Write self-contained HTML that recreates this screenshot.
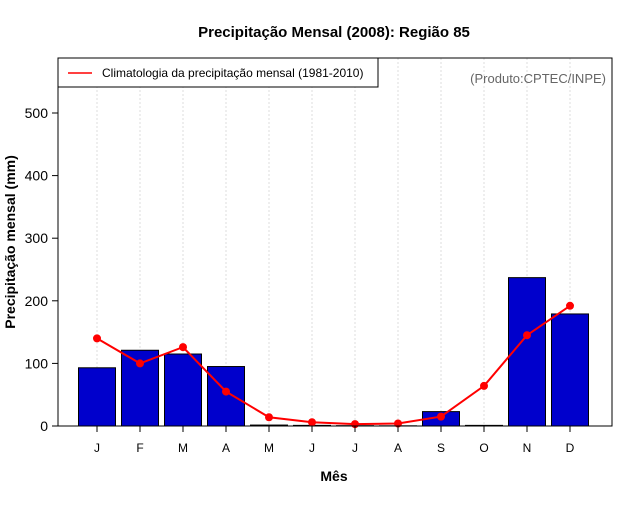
<!DOCTYPE html>
<html><head><meta charset="utf-8"><style>body{margin:0;background:#fff}svg{font-family:"Liberation Sans",sans-serif}</style></head>
<body>
<svg id="c" width="640" height="500"></svg>
<script>
const months=["J","F","M","A","M","J","J","A","S","O","N","D"];
const observed=[93,121,115,95,1.5,1,0.5,0.3,23,1,237,179];
const climatology=[140,100,126,55,14,6,3,4,15,64,145,192];
const yTicks=[0,100,200,300,400,500];
const NS="http://www.w3.org/2000/svg";
const svg=document.getElementById('c');
const L=58,R=612,T=58,B=426;
const y=v=>B-v*(313/500);
const x=i=>97+i*43;
function mk(t,a,p){const e=document.createElementNS(NS,t);for(const k in a)e.setAttribute(k,a[k]);(p||svg).appendChild(e);return e;}
let e;
e=mk('text',{x:334,y:37,'text-anchor':'middle','font-size':15,'font-weight':'bold'});e.textContent='Precipitação Mensal (2008): Região 85';

months.forEach((m,i)=>{
 e=mk('line',{x1:x(i),x2:x(i),y1:T,y2:B,stroke:'#ddd','stroke-dasharray':'2,2'});
 
});
observed.forEach((v,i)=>{
 e=mk('rect',{x:x(i)-18.5,y:y(v),width:37,height:B-y(v),fill:'#0000cc',stroke:'#000','stroke-width':1});
 
});
e=mk('polyline',{points:climatology.map((v,i)=>x(i)+','+y(v)).join(' '),fill:'none',stroke:'#f00','stroke-width':2});

climatology.forEach((v,i)=>{
 e=mk('circle',{cx:x(i),cy:y(v),r:4,fill:'#f00'});
 
});
e=mk('rect',{x:L,y:T,width:R-L,height:B-T,fill:'none',stroke:'#000'});

yTicks.forEach(v=>{
 e=mk('line',{x1:L-6,x2:L,y1:y(v),y2:y(v),stroke:'#000'});
 
 e=mk('text',{x:L-10,y:y(v)+5,'text-anchor':'end','font-size':14});e.textContent=v;
 
});
months.forEach((m,i)=>{
 e=mk('line',{x1:x(i),x2:x(i),y1:B,y2:B+6,stroke:'#000'});
 
 e=mk('text',{x:x(i),y:452,'text-anchor':'middle','font-size':12});e.textContent=m;
 
});
e=mk('text',{x:334,y:481,'text-anchor':'middle','font-size':14,'font-weight':'bold'});e.textContent='Mês';

e=mk('text',{x:15,y:242,'text-anchor':'middle','font-size':14,'font-weight':'bold',transform:'rotate(-90 15 242)'});e.textContent='Precipitação mensal (mm)';

const g=mk('g',{});

mk('rect',{x:58,y:58,width:320,height:29,fill:'#fff',stroke:'#000'},g);
mk('line',{x1:68,x2:92,y1:73,y2:73,stroke:'#f00','stroke-width':1.5},g);
e=mk('text',{x:102,y:77,'font-size':12},g);e.textContent='Climatologia da precipitação mensal (1981-2010)';
e=mk('text',{x:606,y:83,'text-anchor':'end','font-size':13,fill:'#666'});e.textContent='(Produto:CPTEC/INPE)';

</script>
</body></html>
